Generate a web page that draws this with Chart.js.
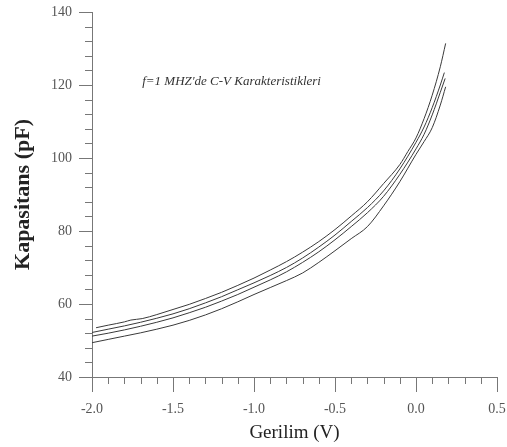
<!DOCTYPE html>
<html lang="tr">
  <head>
    <meta charset="UTF-8">
    <title>C-V Karakteristikleri</title>
    <script src="https://cdn.jsdelivr.net/npm/chart.js"></script>
    <style>
      html, body { margin: 0; padding: 0; background: #fff; }
      #cv { display: block; }
    </style>
  </head>
  <body>
    <canvas id="cv" width="507" height="447"></canvas>
    <script>
      // values (V, pF)
      var vA = [-1.975, -1.9, -1.8, -1.76, -1.69, -1.6, -1.5, -1.4, -1.3, -1.2, -1.1, -1.0, -0.9, -0.8, -0.7, -0.6, -0.5, -0.4, -0.3, -0.2, -0.1, -0.05, 0.0, 0.05, 0.1, 0.15, 0.183];
      var cA = [53.5, 54.2, 55.1, 55.6, 56.0, 57.1, 58.5, 59.9, 61.5, 63.2, 65.1, 67.1, 69.3, 71.6, 74.2, 77.1, 80.4, 84.1, 88.0, 93.0, 98.2, 101.8, 105.5, 110.8, 117.2, 125.0, 131.4];

      var vB = [-2.0, -1.9, -1.8, -1.7, -1.6, -1.5, -1.4, -1.3, -1.2, -1.1, -1.0, -0.9, -0.8, -0.7, -0.6, -0.5, -0.4, -0.3, -0.2, -0.1, 0.0, 0.05, 0.1, 0.15, 0.175];
      var cB = [52.2, 53.1, 54.0, 55.0, 56.1, 57.3, 58.7, 60.3, 62.0, 63.9, 65.8, 67.8, 70.0, 72.6, 75.6, 78.9, 82.6, 86.4, 91.0, 97.0, 104.3, 108.5, 113.8, 120.0, 123.4];

      var vC = [-2.0, -1.9, -1.8, -1.7, -1.6, -1.5, -1.4, -1.3, -1.2, -1.1, -1.0, -0.9, -0.8, -0.7, -0.6, -0.5, -0.4, -0.3, -0.2, -0.1, 0.0, 0.05, 0.1, 0.15, 0.18];
      var cC = [51.2, 52.0, 52.9, 53.9, 55.0, 56.2, 57.6, 59.1, 60.8, 62.6, 64.6, 66.6, 68.8, 71.4, 74.3, 77.6, 81.2, 85.0, 89.5, 95.5, 102.5, 106.5, 111.8, 118.0, 121.8];

      var vD = [-2.0, -1.9, -1.8, -1.7, -1.6, -1.5, -1.4, -1.3, -1.2, -1.1, -1.0, -0.9, -0.8, -0.7, -0.6, -0.5, -0.4, -0.3, -0.2, -0.1, 0.0, 0.05, 0.1, 0.15, 0.183];
      var cD = [49.4, 50.3, 51.2, 52.1, 53.1, 54.2, 55.5, 57.0, 58.7, 60.6, 62.6, 64.5, 66.4, 68.5, 71.4, 74.6, 77.9, 81.2, 86.9, 93.5, 101.0, 104.5, 108.3, 114.5, 119.5];

      var xTicks = [-2.0, -1.5, -1.0, -0.5, 0.0, 0.5];
      var yTicks = [40, 60, 80, 100, 120, 140];
      var note = "f=1 MHZ'de C-V Karakteristikleri";

      var serif = '"Liberation Serif", "Times New Roman", serif';
      Chart.defaults.font.family = serif;

      function pts(vs, cs) {
        return vs.map(function (v, i) { return {x: v, y: cs[i]}; });
      }
      function line(vs, cs) {
        return {
          data: pts(vs, cs),
          borderColor: '#3a3a3a',
          borderWidth: 1,
          pointRadius: 0,
          fill: false,
          cubicInterpolationMode: 'monotone'
        };
      }

      // minor/major tick marks and the note inside the plot
      var decor = {
        id: 'decor',
        afterDraw: function (chart) {
          var ctx = chart.ctx, x = chart.scales.x, y = chart.scales.y;
          ctx.save();
          ctx.strokeStyle = '#777';
          ctx.lineWidth = 1;
          ctx.beginPath();
          for (var i = 0; i <= 25; i++) {
            var v = -2 + i * 0.1;
            var px = Math.round(x.getPixelForValue(v)) + 0.5;
            var len = (i % 5 === 0) ? 15 : 7;
            ctx.moveTo(px, y.bottom);
            ctx.lineTo(px, y.bottom + len);
          }
          for (var j = 0; j <= 25; j++) {
            var c = 40 + j * 4;
            var py = Math.round(y.getPixelForValue(c)) + 0.5;
            var l2 = (j % 5 === 0) ? 13 : 7;
            ctx.moveTo(x.left, py);
            ctx.lineTo(x.left - l2, py);
          }
          ctx.stroke();

          ctx.fillStyle = '#333';
          ctx.font = 'italic 13px ' + serif;
          ctx.textAlign = 'left';
          ctx.textBaseline = 'alphabetic';
          ctx.fillText(note, x.getPixelForValue(-1.69), y.getPixelForValue(120));
          ctx.restore();
        }
      };

      new Chart(document.getElementById('cv'), {
        type: 'line',
        data: {
          datasets: [line(vA, cA), line(vB, cB), line(vC, cC), line(vD, cD)]
        },
        options: {
          responsive: false,
          animation: false,
          layout: {padding: {top: 12, right: 10, left: 0, bottom: 0}},
          plugins: {legend: {display: false}, tooltip: {enabled: false}},
          scales: {
            x: {
              type: 'linear',
              min: -2,
              max: 0.5,
              afterBuildTicks: function (s) { s.ticks = xTicks.map(function (v) { return {value: v}; }); },
              afterFit: function (s) { s.height = 70; s.paddingLeft = 0; s.paddingRight = 0; },
              grid: {display: false, drawTicks: false},
              border: {display: true, color: '#777', width: 1},
              ticks: {
                padding: 24,
                color: '#555',
                font: {size: 14},
                maxRotation: 0,
                autoSkip: false,
                callback: function (v) { return Number(v).toFixed(1); }
              },
              title: {
                display: true,
                text: 'Gerilim (V)',
                color: '#222',
                font: {size: 19},
                padding: {top: 3, bottom: 3}
              }
            },
            y: {
              min: 40,
              max: 140,
              afterBuildTicks: function (s) { s.ticks = yTicks.map(function (v) { return {value: v}; }); },
              afterFit: function (s) { s.width = 92; s.paddingTop = 0; s.paddingBottom = 0; },
              grid: {display: false, drawTicks: false},
              border: {display: true, color: '#777', width: 1},
              ticks: {
                padding: 20,
                color: '#555',
                font: {size: 14},
                autoSkip: false
              },
              title: {
                display: true,
                text: 'Kapasitans (pF)',
                color: '#222',
                font: {size: 22, weight: 'bold'},
                padding: {top: 10, bottom: 10}
              }
            }
          }
        },
        plugins: [decor]
      });
    </script>
  </body>
</html>
